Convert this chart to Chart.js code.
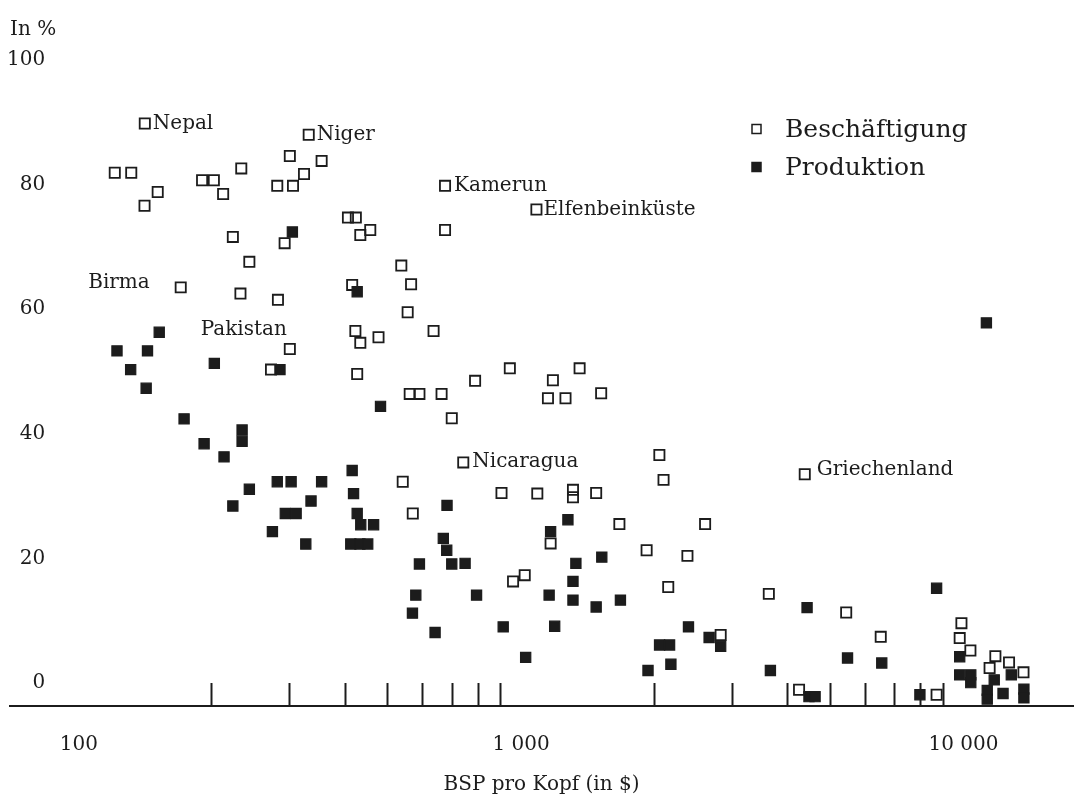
<!DOCTYPE html>
<html lang="de">
<head>
    <meta charset="UTF-8">
    <title>Landwirtschaft: Beschäftigung und Produktion</title>
    <style>
        body { margin: 0; background: #fff; }
        canvas { display: block; }
    </style>
</head>
<body>
    <canvas id="myChart" width="1082" height="799"></canvas>

    <script src="https://cdn.jsdelivr.net/npm/chart.js"></script>

    <script>
    // Beschäftigung (offene Quadrate): BSP pro Kopf in $, Anteil in %
    const beschGNP = [141, 120.6, 131.4, 150.8, 140.8, 190, 202, 212, 233, 300, 354, 323, 281, 305, 331,
        223, 292, 243, 170, 232, 282, 673, 1083, 406, 423, 433, 456, 673, 536, 415, 564, 554,
        300, 272, 422, 433, 476, 634, 426, 560, 589, 661, 787, 943, 1180, 1150, 1260, 1356, 1517,
        697, 740, 2054, 2099, 540, 903, 1088, 1310, 1310, 1478, 569, 959, 1019, 1166, 1668, 2606,
        1922, 2377, 2151, 3631, 2826, 4250, 5432, 6502, 8697, 9897, 9808, 10370, 11810, 11460,
        12680, 13670, 4378]
    const beschShare = [89.8, 81.9, 81.9, 78.8, 76.6, 80.7, 80.7, 78.5, 82.6, 84.6, 83.8, 81.7, 79.8, 79.8, 88.0,
        71.6, 70.6, 67.6, 63.5, 62.5, 61.5, 79.8, 76.0, 74.7, 74.7, 71.9, 72.7, 72.7, 67.0, 63.9, 64.0, 59.5,
        53.6, 50.3, 56.5, 54.6, 55.5, 56.5, 49.6, 46.4, 46.4, 46.4, 48.5, 50.5, 48.6, 45.7, 45.7, 50.5, 46.5,
        42.5, 35.4, 36.6, 32.6, 32.3, 30.5, 30.4, 29.8, 31.0, 30.5, 27.2, 16.3, 17.3, 22.4, 25.5, 25.5,
        21.3, 20.4, 15.4, 14.3, 7.7, -1.1, 11.3, 7.4, -1.9, 9.6, 7.2, 5.2, 4.3, 2.4,
        3.3, 1.7, 33.5]

    // Produktion (gefüllte Quadrate)
    const prodGNP = [304, 426, 152, 122, 143, 131, 142, 202.5, 285, 173, 234, 234, 192, 213, 243,
        281, 302, 354, 335, 223, 293, 310, 274, 326, 481, 415, 418, 426, 434, 464, 412, 432, 450,
        680, 667, 679, 697, 747, 589, 578, 568, 639, 793, 911, 1024, 1166, 1276, 1157, 1191,
        1330, 1310, 1310, 1522, 1478, 1677, 4431, 2390, 2056, 2166, 2661, 2826, 1936, 2181, 3661,
        4475, 4620, 8697, 5470, 6537, 7973, 9808, 9808, 10390, 10390, 11740, 11320, 11320,
        12830, 12290, 13700, 13700, 11270]
    const prodShare = [72.4, 62.8, 56.3, 53.3, 53.3, 50.3, 47.3, 51.3, 50.3, 42.4, 40.6, 38.8, 38.4, 36.3, 31.1,
        32.3, 32.3, 32.3, 29.2, 28.4, 27.2, 27.2, 24.3, 22.3, 44.4, 34.1, 30.4, 27.2, 25.4, 25.4, 22.3, 22.3, 22.3,
        28.5, 23.2, 21.3, 19.1, 19.2, 19.1, 14.1, 11.2, 8.1, 14.1, 9.0, 4.1, 24.3, 26.2, 14.1, 9.1,
        19.2, 16.3, 13.3, 20.2, 12.2, 13.3, 12.1, 9.0, 6.1, 6.1, 7.3, 5.9, 2.0, 3.0, 2.0,
        -2.2, -2.2, 15.2, 4.0, 3.2, -1.9, 4.2, 1.3, 1.3, 0.05, 0.5, -1.2, -2.6,
        1.3, -1.7, -1.0, -2.4, 57.8]

    // beschriftete Länder
    const countryNames = ['Nepal', 'Niger', 'Kamerun', 'Elfenbeinküste', 'Birma', 'Pakistan', 'Nicaragua', 'Griechenland']
    const countryGNP = [141, 331, 673, 1083, 170, 300, 740, 4378]
    const countryShare = [89.8, 88.0, 79.8, 76.0, 63.5, 53.6, 35.4, 33.5]

    const xTickValues = [100, 200, 300, 400, 500, 600, 700, 800, 900, 1000, 2000, 3000, 4000, 5000, 6000, 7000, 8000, 9000, 10000]
    const xTickLabels = { 100: '100', 1000: '1 000', 10000: '10 000' }
    const yTickValues = [0, 20, 40, 60, 80, 100]

    // label placement (pixels, relative to point)
    const countryLabelPos = [
        { dx: 8, dy: 0, align: 'left' },
        { dx: 8, dy: 0, align: 'left' },
        { dx: 9, dy: 0, align: 'left' },
        { dx: 7, dy: 0, align: 'left' },
        { dx: -31, dy: -5, align: 'right' },
        { dx: -3, dy: -19, align: 'right' },
        { dx: 9, dy: -1, align: 'left' },
        { dx: 12, dy: -4, align: 'left' },
    ]

    const ink = '#1c1c1c'
    const serif = 'DejaVu Serif'

    const countryLabels = {
        id: 'countryLabels',
        afterDatasetsDraw(chart) {
            const { ctx, scales: { x, y } } = chart
            ctx.save()
            ctx.font = '20px "' + serif + '"'
            ctx.fillStyle = ink
            ctx.textBaseline = 'middle'
            countryNames.forEach((name, i) => {
                const pos = countryLabelPos[i]
                ctx.textAlign = pos.align
                ctx.fillText(name, x.getPixelForValue(countryGNP[i]) + pos.dx, y.getPixelForValue(countryShare[i]) + pos.dy)
            })
            ctx.restore()
        }
    }

    const squareLegend = {
        id: 'squareLegend',
        afterDraw(chart) {
            const ctx = chart.ctx
            ctx.save()
            ctx.font = '25px "' + serif + '"'
            ctx.textBaseline = 'middle'
            ctx.textAlign = 'left'
            const rows = [130, 168]
            chart.data.datasets.forEach((ds, i) => {
                const cy = rows[i] - 1
                ctx.fillStyle = ds.backgroundColor
                ctx.strokeStyle = ds.borderColor
                ctx.lineWidth = 1.5
                ctx.beginPath()
                ctx.rect(752, cy - 4.5, 9, 9)
                ctx.fill()
                ctx.stroke()
                ctx.fillStyle = ink
                ctx.fillText(ds.label, 785, rows[i])
            })
            ctx.restore()
        }
    }

    const ctx = document.getElementById('myChart')

    const chartConfig = {
        type: 'scatter',
        data: {
            datasets: [
                {
                    label: 'Beschäftigung',
                    data: beschGNP.map((v, i) => ({ x: v, y: beschShare[i] })),
                    pointStyle: 'rect',
                    pointRadius: 7.2,
                    borderWidth: 1.8,
                    borderColor: ink,
                    backgroundColor: 'rgba(255,255,255,0)',
                },
                {
                    label: 'Produktion',
                    data: prodGNP.map((v, i) => ({ x: v, y: prodShare[i] })),
                    pointStyle: 'rect',
                    pointRadius: 7.2,
                    borderWidth: 1.2,
                    borderColor: ink,
                    backgroundColor: ink,
                },
            ]
        },
        options: {
            responsive: false,
            animation: false,
            layout: { padding: { left: 10, right: 5, top: 0, bottom: 0 } },
            plugins: {
                legend: { display: false },
                tooltip: { enabled: false },
                title: {
                    display: true,
                    text: 'In %',
                    align: 'start',
                    color: ink,
                    font: { family: serif, size: 20, weight: 'normal' },
                    padding: { top: 18, bottom: 18 },
                },
            },
            scales: {
                x: {
                    type: 'logarithmic',
                    min: 69.9,
                    max: 17690,
                    afterBuildTicks: s => { s.ticks = xTickValues.map(v => ({ value: v })) },
                    afterFit: s => { s.height = 93 },
                    border: { display: true, color: ink, width: 2 },
                    grid: {
                        display: true,
                        drawOnChartArea: false,
                        drawTicks: true,
                        tickLength: -23,
                        tickWidth: 2,
                        tickColor: c => (c.tick && xTickLabels[c.tick.value]) ? 'rgba(0,0,0,0)' : ink,
                    },
                    ticks: {
                        autoSkip: false,
                        maxRotation: 0,
                        padding: 50,
                        color: ink,
                        font: { family: serif, size: 20 },
                        callback: v => xTickLabels[v] || '',
                    },
                    title: {
                        display: true,
                        text: 'BSP pro Kopf (in $)',
                        color: ink,
                        font: { family: serif, size: 20 },
                        padding: { top: 0, bottom: 2 },
                    },
                },
                y: {
                    min: -3.7,
                    max: 100,
                    afterBuildTicks: s => { s.ticks = yTickValues.map(v => ({ value: v })) },
                    afterFit: s => { s.width = 0 },
                    border: { display: false },
                    grid: { display: false, drawTicks: false },
                    ticks: {
                        mirror: true,
                        crossAlign: 'far',
                        padding: -3,
                        color: ink,
                        font: { family: serif, size: 20 },
                    },
                },
            },
        },
        plugins: [countryLabels, squareLegend],
    }

    const myChart = new Chart(ctx, chartConfig)
    </script>
</body>
</html>
